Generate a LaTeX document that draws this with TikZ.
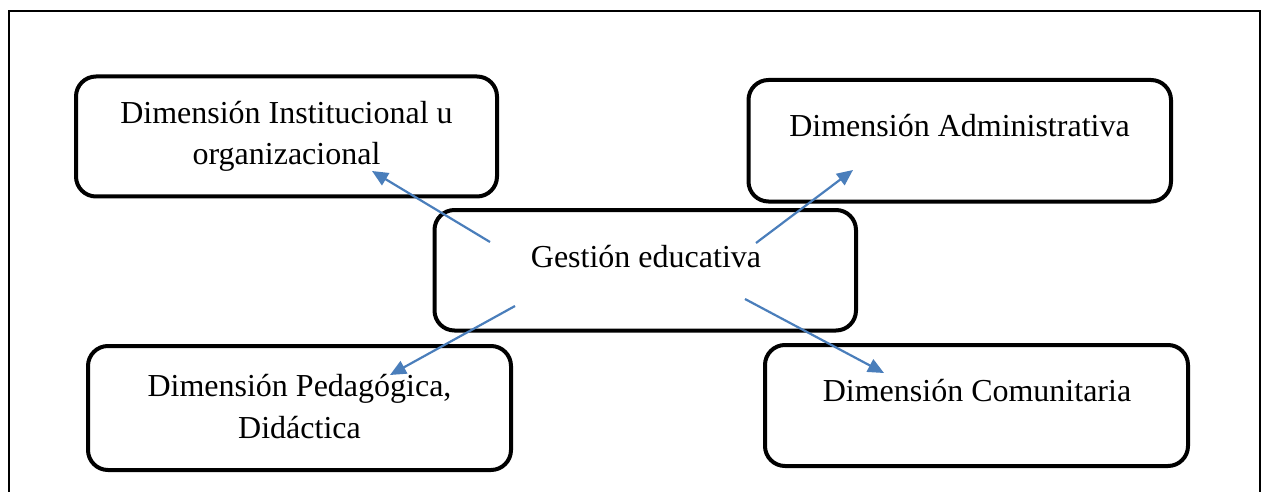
\documentclass[tikz,border=0pt]{standalone}
\usepackage{fontspec}
\setmainfont{Liberation Serif}
\usetikzlibrary{arrows.meta}
\definecolor{arrowblue}{HTML}{4A7EBB}
\tikzset{
  x=1pt, y=-1pt,
  box/.style={draw=black, line width=4pt, rounded corners=20pt, inner sep=0pt},
  lbl/.style={font=\fontsize{32}{41.5}\selectfont, align=center, anchor=base, inner sep=0pt},
  link/.style={draw=arrowblue, line width=2.2pt, -{Triangle[length=16pt,width=14pt]}},
  frame/.style={draw=black, line width=1.6pt}
}
\begin{document}
\begin{tikzpicture}
\useasboundingbox (0,0) rectangle (1267,492);
\begin{scope}
\clip (0,0) rectangle (1267,492);
\draw[frame] (9,500) -- (9,11) -- (1260,11) -- (1260,500);
\end{scope}
% boxes
\draw[box] (76,76.5) rectangle (497,196.5);
\draw[box] (748.5,80) rectangle (1171,201.5);
\draw[box] (434.5,210) rectangle (856,330.5);
\draw[box] (88,346) rectangle (511,470);
\draw[box] (765,345) rectangle (1188,466);
% texts (base anchor = baseline of last line)
\node[lbl] (inst) at (286.5,165) {Dimensión Institucional u\\organizacional};
\node[lbl] (adm) at (959.5,136.7) {Dimensión Administrativa};
\node[lbl] (ges) at (646,267) {Gestión educativa};
\node[lbl] (ped) at (299.5,438.3) {Dimensión Pedagógica,\\Didáctica};
\node[lbl] (com) at (977,401.7) {Dimensión Comunitaria};
% arrow endpoints
\coordinate (s1) at (490,242);
\coordinate (t1) at (372,171);
\coordinate (s2) at (756,243);
\coordinate (t2) at (853,170);
\coordinate (s3) at (515,306);
\coordinate (t3) at (390,375);
\coordinate (s4) at (745,299);
\coordinate (t4) at (884,373);
\draw[link] (s1) -- (t1);
\draw[link] (s2) -- (t2);
\draw[link] (s3) -- (t3);
\draw[link] (s4) -- (t4);
\end{tikzpicture}
\end{document}
